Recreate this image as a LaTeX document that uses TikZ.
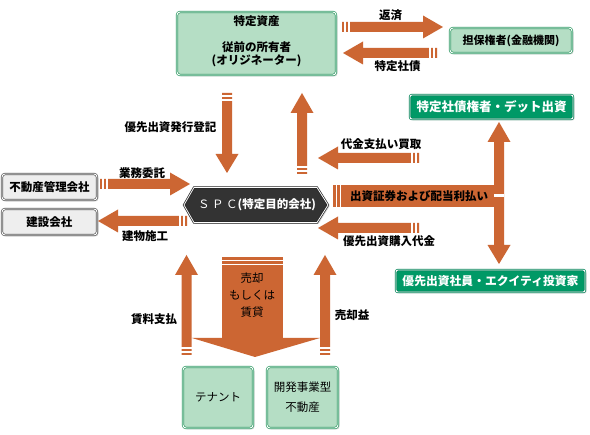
\documentclass[tikz,border=0pt]{standalone}
\usepackage{fontspec}
\setmainfont{Noto Sans CJK JP}
\usetikzlibrary{shadows}
\definecolor{arr}{HTML}{CC6633}
\definecolor{lgreen}{HTML}{B5DEC5}
\definecolor{bgreen}{HTML}{2E9963}
\definecolor{dgreen}{HTML}{009966}
\definecolor{gboxfill}{HTML}{EEEEEE}
\definecolor{gline}{HTML}{555555}
\definecolor{spcfill}{HTML}{333333}
\tikzset{
  wstripe/.style={white,line width=1.3pt},
  shad/.style={drop shadow={shadow xshift=1.5pt,shadow yshift=-1.5pt,opacity=0.3}},
  lbox/.style={draw=bgreen,double=white,double distance=0.9pt,line width=0.7pt,fill=lgreen,rounded corners=3pt,shad,inner sep=0pt,align=center},
  dbox/.style={draw=dgreen!85!black,double=white,double distance=0.9pt,line width=0.7pt,fill=dgreen,text=white,rounded corners=2pt,shad,inner sep=0pt},
  gbox/.style={draw=gline,double=white,double distance=0.9pt,line width=0.7pt,fill=gboxfill,rounded corners=3pt,shad,inner sep=0pt},
  every node/.style={font=\fontsize{11.5}{13}\selectfont\bfseries,inner sep=0pt},
}
\newcommand{\ArrR}[3]{%
  \fill[arr] (#1,#3-5) -- (#2-20,#3-5) -- (#2-20,#3-11.5) -- (#2,#3) -- (#2-20,#3+11.5) -- (#2-20,#3+5) -- (#1,#3+5) -- cycle;
  \draw[wstripe] (#1+3,#3-5.5) -- (#1+3,#3+5.5) (#1+7,#3-5.5) -- (#1+7,#3+5.5);}
\newcommand{\ArrL}[3]{%
  \fill[arr] (#1,#3-5) -- (#2+20,#3-5) -- (#2+20,#3-11.5) -- (#2,#3) -- (#2+20,#3+11.5) -- (#2+20,#3+5) -- (#1,#3+5) -- cycle;
  \draw[wstripe] (#1-3,#3-5.5) -- (#1-3,#3+5.5) (#1-7,#3-5.5) -- (#1-7,#3+5.5);}
\newcommand{\ArrU}[3]{%
  \fill[arr] (#1-5,#2) -- (#1-5,#3+20) -- (#1-11.5,#3+20) -- (#1,#3) -- (#1+11.5,#3+20) -- (#1+5,#3+20) -- (#1+5,#2) -- cycle;
  \draw[wstripe] (#1-5.5,#2-3) -- (#1+5.5,#2-3) (#1-5.5,#2-7) -- (#1+5.5,#2-7);}
\newcommand{\ArrD}[3]{%
  \fill[arr] (#1-5,#2) -- (#1-5,#3-19) -- (#1-11.5,#3-19) -- (#1,#3) -- (#1+11.5,#3-19) -- (#1+5,#3-19) -- (#1+5,#2) -- cycle;
  \draw[wstripe] (#1-5.5,#2+3) -- (#1+5.5,#2+3) (#1-5.5,#2+7) -- (#1+5.5,#2+7);}
\begin{document}
\begin{tikzpicture}[x=1pt,y=-1pt]
\useasboundingbox (0,0) rectangle (590,435);
\fill[white] (0,0) rectangle (590,435);

% boxes
\node[lbox,minimum width=159,minimum height=63] (orig) at (256.5,43.5) {};
\node[align=center,font=\fontsize{11.5}{13}\selectfont\bfseries] (origt) at (256.5,41) {特定資産\\[13pt]従前の所有者\\(オリジネーター)};
\node[lbox,minimum width=122,minimum height=25,font=\fontsize{11}{13}\selectfont\bfseries] (tanpo) at (511,40.5) {担保権者(金融機関)};
\node[dbox,minimum width=163,minimum height=24,font=\fontsize{12.5}{14}\selectfont\bfseries] (debt) at (491.5,107) {特定社債権者・デット出資};
\node[dbox,minimum width=189,minimum height=22,font=\fontsize{11.8}{14}\selectfont\bfseries] (equity) at (490.5,281) {優先出資社員・エクイティ投資家};
\node[gbox,minimum width=95,minimum height=26] (fudo) at (49.5,187) {不動産管理会社};
\node[gbox,minimum width=95,minimum height=26] (kensetsu) at (49.5,222) {建設会社};
\node[lbox,minimum width=70,minimum height=61,font=\fontsize{11.5}{13}\selectfont\mdseries] (tenant) at (218,397.5) {テナント};
\node[lbox,minimum width=71,minimum height=61,font=\fontsize{11.5}{13}\selectfont\mdseries] (kaihatsu) at (302.5,397.5) {開発事業型\\[7pt]不動産};

% SPC hexagon
\filldraw[draw=black!85,double=white,double distance=0.8pt,line width=0.7pt,fill=spcfill,shad] (184,205) -- (194,187.5) -- (317,187.5) -- (328,205) -- (317,222.5) -- (194,222.5) -- cycle;
\node[text=white] (spc) at (257,205) {{\mdseries Ｓ Ｐ Ｃ}(特定目的会社)};

% horizontal arrows
\ArrR{342}{443}{27}
\ArrL{437}{343}{53}
\ArrL{419}{318}{158}
\ArrL{419}{318}{228}
\ArrR{100}{190}{184}
\ArrL{187}{98}{221}

% vertical arrows near SPC
\ArrD{227}{93}{173}
\ArrU{302}{174}{93}

% right double arrow and bar
\fill[arr] (499,122) -- (510.5,142) -- (504,142) -- (504,245) -- (510.5,245) -- (499,264) -- (487.5,245) -- (494,245) -- (494,142) -- (487.5,142) -- cycle;
\fill[arr] (333,185) rectangle (494,207);
\draw[wstripe] (336.5,184.5) -- (336.5,207.5) (340.5,184.5) -- (340.5,207.5);
\fill[white] (494,194) rectangle (504,197.5);
\node (bart) at (419,196.5) {出資証券および配当利払い};

% bottom arrows
\fill[arr] (222,257) rectangle (283,338.5);
\fill[arr] (192,338) -- (320,338) -- (255,357) -- cycle;
\draw[wstripe] (221.5,260.3) -- (283.5,260.3) (221.5,264.3) -- (283.5,264.3);
\node[align=center,font=\fontsize{11.5}{17}\selectfont\mdseries] (baikyaku) at (252,295) {売却\\もしくは\\賃貸};
\ArrU{186.5}{355}{255}
\ArrU{325}{355}{255}

% labels
\node (l1) at (390.5,15) {返済};
\node (l2) at (397.5,66) {特定社債};
\node (l3) at (381,144) {代金支払い買取};
\node (l4) at (389,241.5) {優先出資購入代金};
\node (l5) at (142,173) {業務委託};
\node (l6) at (145,236.5) {建物施工};
\node (l7) at (170.5,127.5) {優先出資発行登記};
\node (l8) at (154,319) {賃料支払};
\node (l9) at (352,315) {売却益};
\end{tikzpicture}
\end{document}
